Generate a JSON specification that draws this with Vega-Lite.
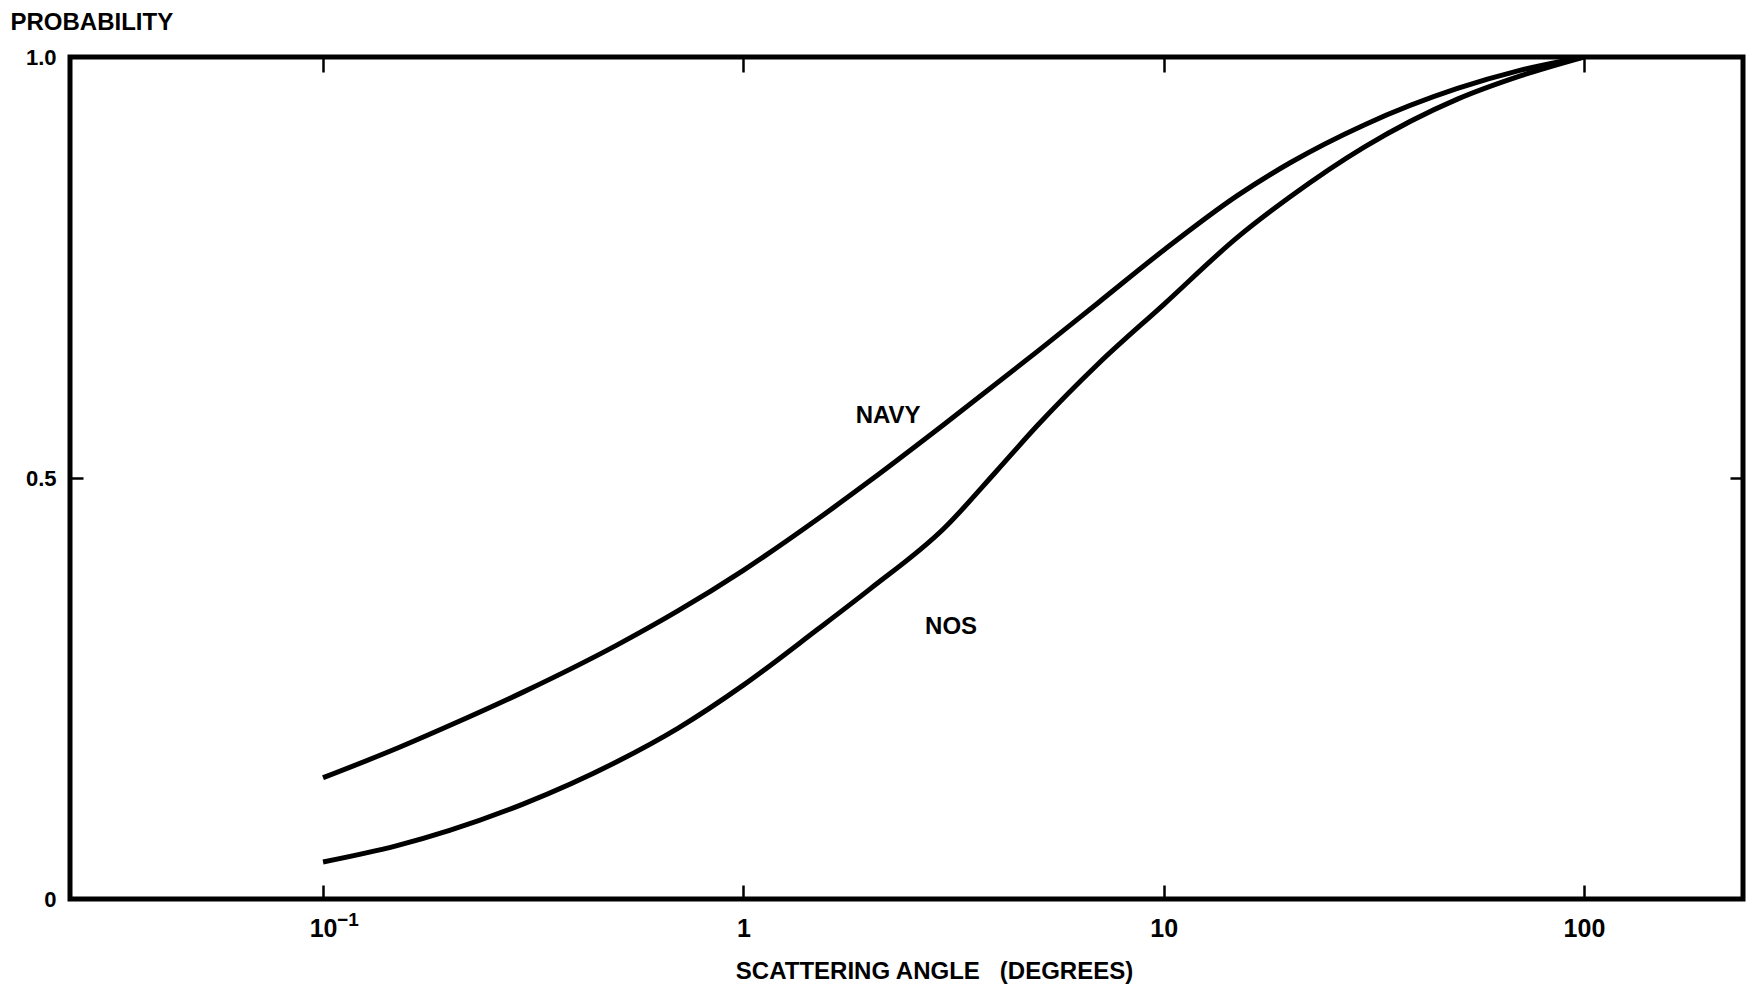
{
  "$schema": "https://vega.github.io/schema/vega-lite/v6.json",
  "width": 1673,
  "height": 842,
  "autosize": "none",
  "padding": {"left": 70, "top": 57, "right": 10, "bottom": 93},
  "background": "white",
  "config": {
    "view": {"stroke": "black", "strokeWidth": 5},
    "font": "Liberation Sans",
    "axis": {
      "domain": false,
      "grid": false,
      "labelFont": "Liberation Sans",
      "labelFontWeight": "bold",
      "labelFontSize": 22,
      "labelColor": "black",
      "tickColor": "black",
      "tickWidth": 2.5,
      "titleFont": "Liberation Sans",
      "titleFontWeight": "bold",
      "titleFontSize": 24,
      "titleColor": "black"
    }
  },
  "datasets": {
    "curves": [
      {"model": "NAVY", "angle": 0.1, "probability": 0.144},
      {"model": "NAVY", "angle": 0.15, "probability": 0.179},
      {"model": "NAVY", "angle": 0.2, "probability": 0.206},
      {"model": "NAVY", "angle": 0.3, "probability": 0.246},
      {"model": "NAVY", "angle": 0.5, "probability": 0.3015},
      {"model": "NAVY", "angle": 0.7, "probability": 0.3424},
      {"model": "NAVY", "angle": 1, "probability": 0.3904},
      {"model": "NAVY", "angle": 1.5, "probability": 0.451},
      {"model": "NAVY", "angle": 2, "probability": 0.4966},
      {"model": "NAVY", "angle": 3, "probability": 0.5635},
      {"model": "NAVY", "angle": 5, "probability": 0.6501},
      {"model": "NAVY", "angle": 7, "probability": 0.7085},
      {"model": "NAVY", "angle": 10, "probability": 0.7705},
      {"model": "NAVY", "angle": 15, "probability": 0.8356},
      {"model": "NAVY", "angle": 20, "probability": 0.8744},
      {"model": "NAVY", "angle": 30, "probability": 0.9193},
      {"model": "NAVY", "angle": 50, "probability": 0.9626},
      {"model": "NAVY", "angle": 70, "probability": 0.9838},
      {"model": "NAVY", "angle": 100, "probability": 1.0},
      {"model": "NOS", "angle": 0.1, "probability": 0.044},
      {"model": "NOS", "angle": 0.15, "probability": 0.0634},
      {"model": "NOS", "angle": 0.2, "probability": 0.0815},
      {"model": "NOS", "angle": 0.3, "probability": 0.113},
      {"model": "NOS", "angle": 0.5, "probability": 0.163},
      {"model": "NOS", "angle": 0.7, "probability": 0.203},
      {"model": "NOS", "angle": 1, "probability": 0.254},
      {"model": "NOS", "angle": 1.5, "probability": 0.32},
      {"model": "NOS", "angle": 2, "probability": 0.368},
      {"model": "NOS", "angle": 3, "probability": 0.44},
      {"model": "NOS", "angle": 4, "probability": 0.508},
      {"model": "NOS", "angle": 5, "probability": 0.562},
      {"model": "NOS", "angle": 7, "probability": 0.636},
      {"model": "NOS", "angle": 10, "probability": 0.706},
      {"model": "NOS", "angle": 15, "probability": 0.786},
      {"model": "NOS", "angle": 20, "probability": 0.834},
      {"model": "NOS", "angle": 30, "probability": 0.893},
      {"model": "NOS", "angle": 50, "probability": 0.95},
      {"model": "NOS", "angle": 70, "probability": 0.977},
      {"model": "NOS", "angle": 100, "probability": 1.0}
    ],
    "labels": [
      {"model": "NAVY", "angle": 2.21, "probability": 0.574},
      {"model": "NOS", "angle": 3.12, "probability": 0.323}
    ],
    "exponent": [
      {"angle": 0.1, "probability": 0, "power": "−1"}
    ]
  },
  "layer": [
    {
      "data": {"name": "curves"},
      "mark": {"type": "line", "stroke": "black", "strokeWidth": 5, "interpolate": "monotone", "clip": true},
      "encoding": {
        "x": {
          "field": "angle",
          "type": "quantitative",
          "scale": {"type": "log", "domain": [0.025, 239]},
          "axis": {
            "orient": "bottom",
            "values": [0.1, 1, 10, 100],
            "tickSize": -14,
            "labelPadding": 31,
            "labelFontSize": 25,
            "labelExpr": "datum.value == 0.1 ? '10' : format(datum.value, 'd')",
            "title": "SCATTERING ANGLE\u00a0\u00a0\u00a0(DEGREES)",
            "titleX": 864,
            "titleY": 79,
            "titleAlign": "center",
            "titleBaseline": "alphabetic"
          }
        },
        "y": {
          "field": "probability",
          "type": "quantitative",
          "scale": {"domain": [0, 1]},
          "axis": {
            "orient": "left",
            "values": [0, 0.5, 1],
            "tickSize": -13,
            "labelPadding": 27,
            "labelExpr": "datum.value == 0 ? '0' : format(datum.value, '.1f')",
            "title": "PROBABILITY",
            "titleAngle": 0,
            "titleX": -60,
            "titleY": -28,
            "titleAlign": "left",
            "titleBaseline": "alphabetic"
          }
        },
        "detail": {"field": "model"}
      }
    },
    {
      "data": {"name": "labels"},
      "mark": {"type": "text", "font": "Liberation Sans", "fontWeight": "bold", "fontSize": 24, "color": "black"},
      "encoding": {
        "x": {
          "field": "angle",
          "type": "quantitative",
          "scale": {"type": "log", "domain": [0.025, 239]},
          "axis": {"orient": "top", "values": [0.1, 1, 10, 100], "tickSize": -15, "labels": false, "title": null}
        },
        "y": {
          "field": "probability",
          "type": "quantitative",
          "scale": {"domain": [0, 1]},
          "axis": {"orient": "right", "values": [0.5], "tickSize": -13, "labels": false, "title": null}
        },
        "text": {"field": "model"}
      }
    },
    {
      "data": {"name": "exponent"},
      "mark": {"type": "text", "font": "Liberation Sans", "fontWeight": "bold", "fontSize": 19, "color": "black", "align": "left", "baseline": "alphabetic", "dx": 14, "dy": 27},
      "encoding": {
        "x": {"field": "angle", "type": "quantitative", "scale": {"type": "log", "domain": [0.025, 239]}, "axis": null},
        "y": {"field": "probability", "type": "quantitative", "scale": {"domain": [0, 1]}, "axis": null},
        "text": {"field": "power"}
      }
    }
  ],
  "resolve": {"axis": {"x": "independent", "y": "independent"}}
}
